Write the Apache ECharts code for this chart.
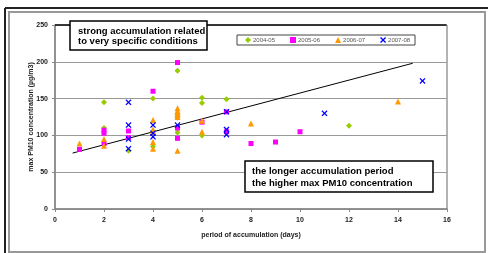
<!DOCTYPE html>
<html><head><meta charset="utf-8">
<script src="https://cdn.jsdelivr.net/npm/echarts@6/dist/echarts.min.js"></script>
<style>html,body{margin:0;padding:0;background:#fff}#c{width:488px;height:253px}</style>
</head><body><div id="c"></div>
<script>
var seriesNames = ['2004-05', '2005-06', '2006-07', '2007-08'];
var s0405 = [[2,145],[2,110],[3,79],[4,150],[4,85],[5,188],[5,128],[5,124],[5,104],[6,151],[6,144],[6,100],[7,149],[12,113]];
var s0506 = [[1,81],[2,107],[2,103],[2,89],[3,106],[3,97],[4,160],[5,199],[5,110],[5,96],[6,118],[7,132],[7,105],[8,89],[9,91],[10,105]];
var s0607 = [[1,89],[2,95],[2,86],[4,121],[4,108],[4,105],[4,91],[4,82],[5,137],[5,133],[5,129],[5,125],[5,79],[6,120],[6,105],[8,116],[14,146]];
var s0708 = [[3,145],[3,114],[3,95],[3,82],[4,114],[4,103],[4,98],[5,114],[7,132],[7,108],[7,101],[11,130],[15,174]];
var trend = [[0.72,76],[14.6,198]];
var xTicks = [0,2,4,6,8,10,12,14,16];
var yTicks = [0,50,100,150,200,250];
var xTitle = 'period of accumulation (days)';
var yTitle = 'max PM10 concentration (\u00b5g/m3)';
var note1 = ['strong accumulation related', 'to very specific conditions'];
var note2 = ['the longer accumulation period', 'the higher max PM10 concentration'];

var xMark = 'path://M0,1.5L1.5,0L5,3.5L8.5,0L10,1.5L6.5,5L10,8.5L8.5,10L5,6.5L1.5,10L0,8.5L3.5,5Z';
var colors = ['#99cc00', '#ff00ff', '#ff9900', '#0000ff'];
var symbols = ['diamond', 'rect', 'triangle', xMark];
var sizes = [6, 5, 6, 6];
var datas = [s0405, s0506, s0607, s0708];

var chart = echarts.init(document.getElementById('c'), null, {renderer: 'canvas'});
var lblFont = {fontFamily: 'Liberation Sans', fontWeight: 'bold', fontSize: 7, color: '#222'};
var series = seriesNames.map(function (n, i) {
  return {name: n, type: 'scatter', data: datas[i], symbol: symbols[i], symbolSize: sizes[i],
    itemStyle: {color: colors[i], opacity: 1}, z: 3};
});
series.push({name: 'trend', type: 'line', data: trend, symbol: 'none', silent: true,
  lineStyle: {color: '#000', width: 1}, z: 2});

chart.setOption({
  animation: false,
  grid: {left: 55, right: 41, top: 25, bottom: 44, show: true, borderColor: '#666', borderWidth: 1},
  xAxis: {type: 'value', min: 0, max: 16, interval: 2,
    axisLine: {lineStyle: {color: '#888', width: 1.5}},
    axisTick: {show: true, length: 3, lineStyle: {color: '#888'}},
    splitLine: {show: false},
    axisLabel: Object.assign({margin: 8, formatter: function (v) { return xTicks.indexOf(v) >= 0 ? String(v) : ''; }}, lblFont),
    name: xTitle, nameLocation: 'middle', nameGap: 23, nameMoveOverlap: false,
    nameTextStyle: Object.assign({}, lblFont)},
  yAxis: {type: 'value', min: 0, max: 250, interval: 50,
    axisLine: {show: true, lineStyle: {color: '#888', width: 1.5}},
    axisTick: {show: true, length: 3, lineStyle: {color: '#888'}},
    splitLine: {show: true, lineStyle: {color: '#999', width: 1}},
    axisLabel: Object.assign({margin: 7, formatter: function (v) { return yTicks.indexOf(v) >= 0 ? String(v) : ''; }}, lblFont),
    name: yTitle, nameLocation: 'middle', nameGap: 20, nameRotate: 90, nameMoveOverlap: false,
    nameTextStyle: Object.assign({}, lblFont, {fontSize: 7})},
  legend: {data: seriesNames, left: 245, top: 37, itemWidth: 6, itemHeight: 6, itemGap: 15,
    padding: 0, z: 20,
    textStyle: {fontFamily: 'Liberation Sans', fontSize: 6, color: '#555', padding: [0, 0, 0, -3]}},
  graphic: [
    {type: 'line', shape: {x1: 5, y1: 8, x2: 488, y2: 8}, style: {stroke: '#222', lineWidth: 2}, z: 1},
    {type: 'line', shape: {x1: 5, y1: 8, x2: 5, y2: 253}, style: {stroke: '#222', lineWidth: 2}, z: 1},
    {type: 'rect', shape: {x: 9, y: 12, width: 476, height: 240}, style: {fill: 'none', stroke: '#999', lineWidth: 2}, z: 1},
    {type: 'line', shape: {x1: 55, y1: 25, x2: 446.5, y2: 25}, style: {stroke: '#111', lineWidth: 1.5}, z: 5},
    {type: 'rect', shape: {x: 237, y: 35, width: 178, height: 10}, style: {fill: '#fff', stroke: '#444', lineWidth: 1}, z: 10},
    {type: 'group', z: 10, children: [
      {type: 'rect', shape: {x: 70, y: 21, width: 137, height: 29}, style: {fill: '#fff', stroke: '#000', lineWidth: 1.5}, z: 10},
      {type: 'text', x: 78, y: 26, style: {text: note1.join('\n'), font: 'bold 9.5px "Liberation Sans"', fill: '#000', lineHeight: 10.5}, z: 11}
    ]},
    {type: 'group', z: 10, children: [
      {type: 'rect', shape: {x: 245, y: 161, width: 188, height: 31}, style: {fill: '#fff', stroke: '#000', lineWidth: 1.5}, z: 10},
      {type: 'text', x: 252, y: 166, style: {text: note2.join('\n'), font: 'bold 9.5px "Liberation Sans"', fill: '#000', lineHeight: 11.5}, z: 11}
    ]}
  ],
  series: series
});
</script></body></html>
